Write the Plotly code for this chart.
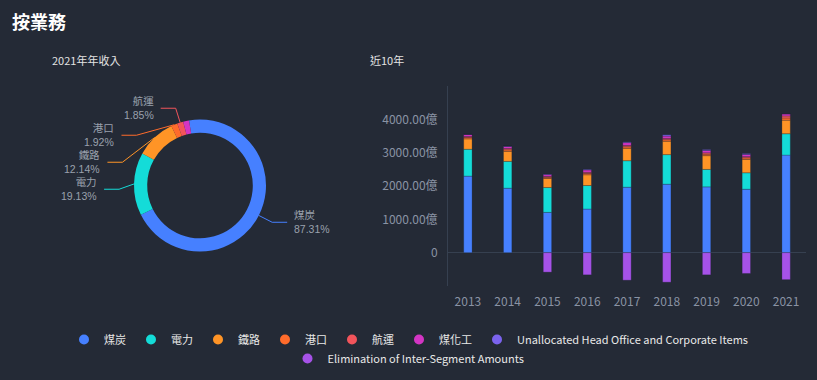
import math
import plotly.graph_objects as go

# ---------------- data ----------------
years = ["2013", "2014", "2015", "2016", "2017", "2018", "2019", "2020", "2021"]
segment_names = ["煤炭", "電力", "鐵路", "港口", "航運", "煤化工",
                 "Unallocated Head Office and Corporate Items",
                 "Elimination of Inter-Segment Amounts"]
coal = [2296, 1934, 1208, 1309, 1964, 2054, 1974, 1903, 2926.77]
power = [806, 805, 746, 705, 795, 887, 523, 494, 641.27]
railway = [312, 302, 272, 322, 373, 402, 413, 403, 406.95]
port = [40, 45, 35, 40, 45, 45, 45, 45, 64.36]
shipping = [30, 40, 25, 35, 40, 40, 40, 35, 62.01]
coal_chem = [60, 60, 55, 70, 85, 70, 70, 65, 60.0]
unallocated = [5, 15, 15, 16, 21, 37, 27, 26, 0]
elimination = [0, 0, -584, -665, -826, -886, -665, -624, -809.16]
y_tick_values = [0, 1000, 2000, 3000, 4000]
y_tick_labels = ["0", "1000.00億", "2000.00億", "3000.00億", "4000.00億"]
pie_hidden_labels = ["煤化工"]

series = [coal, power, railway, port, shipping, coal_chem, unallocated, elimination]

# ---------------- style ----------------
W, H = 817, 380
BG = "#242a36"
colors = ["#4680ff", "#14dcd8", "#ff9426", "#ff6b2b", "#f2545b", "#d335c4", "#7b63ee", "#a652e8"]
CJK = "Noto Sans CJK TC, Noto Sans, sans-serif"
LABEL_FONT = "Liberation Sans, Noto Sans CJK TC, sans-serif"
LEG_FONT = "Liberation Sans Narrow, Noto Sans CJK TC, sans-serif"


def px(x):
    return x / W


def py(y):
    return 1 - y / H


fig = go.Figure()

# stacked bars
for name, vals, col in zip(segment_names, series, colors):
    fig.add_trace(go.Bar(
        x=years, y=vals, name=name, legendgroup=name, showlegend=False,
        marker=dict(color=col, line=dict(width=0.6, color="rgba(30,36,48,0.45)")),
        width=0.21,
    ))

# legend entries (circle markers); last entry goes on a second centred row
for i, (name, col) in enumerate(zip(segment_names, colors)):
    fig.add_trace(go.Scatter(
        x=[None], y=[None], mode="markers", name=name, legendgroup=name,
        legend="legend2" if i == len(segment_names) - 1 else "legend",
        marker=dict(color=col, size=10, symbol="circle"), showlegend=True,
    ))

# pie of last year
pie_labels, pie_values, pie_colors = [], [], []
for name, vals, col in zip(segment_names, series, colors):
    if vals[-1] > 0:
        pie_labels.append(name)
        pie_values.append(vals[-1])
        pie_colors.append(col)
net_total = sum(s[-1] for s in series)

cx, cy, R = 200, 185.5, 66
rotation = -9.6
fig.add_trace(go.Pie(
    labels=pie_labels, values=pie_values, hole=0.8, sort=False,
    direction="clockwise", rotation=rotation, textinfo="none", showlegend=False,
    marker=dict(colors=pie_colors, line=dict(width=0)),
    domain=dict(x=[px(cx - R), px(cx + R)], y=[py(cy + R), py(cy - R)]),
))

# pie labels with leader lines (geometry derived from the slice angles)
total = sum(pie_values)
L1, L2, GAP = 15, 15, 27
items = []
ang = rotation
for lab, v, col in zip(pie_labels, pie_values, pie_colors):
    span = v / total * 360
    mid = math.radians(ang + span / 2)
    ang += span
    if lab in pie_hidden_labels:
        continue
    s, c = math.sin(mid), math.cos(mid)
    items.append(dict(label=lab, pct=v / net_total * 100, col=col,
                      p=(cx + R * s, cy - R * c),
                      ey=cy - (R + L1) * c, ex=cx + (R + L1) * s,
                      side=1 if s > 0 else -1))

for side in (1, -1):
    grp = sorted([it for it in items if it["side"] == side], key=lambda d: d["ey"])
    last = -1e9
    for it in grp:
        if it["ey"] < last + GAP:
            it["ey"] = last + GAP
        last = it["ey"]
        dy = it["ey"] - cy
        if abs(dy) < R + L1:
            it["ex"] = cx + side * math.sqrt((R + L1) ** 2 - dy ** 2)

shapes = []
annotations = []
for it in items:
    ex, ey = it["ex"], it["ey"]
    endx = ex + it["side"] * L2
    shapes.append(dict(
        type="path", xref="paper", yref="paper",
        path=f"M {px(it['p'][0])},{py(it['p'][1])} L {px(ex)},{py(ey)} L {px(endx)},{py(ey)}",
        line=dict(color=it["col"], width=1),
    ))
    tx = endx + it["side"] * 5
    anchor = "left" if it["side"] > 0 else "right"
    annotations.append(dict(x=px(tx), y=py(ey), xref="paper", yref="paper",
                            text=f"{it['label']}<br>{it['pct']:.2f}%", showarrow=False,
                            xanchor=anchor, yanchor="middle", align=anchor,
                            font=dict(size=10.5, color="#9aa1ad", family=LABEL_FONT)))

# titles
annotations.append(dict(x=px(10), y=py(21), xref="paper", yref="paper", text="<b>按業務</b>",
                        showarrow=False, xanchor="left", yanchor="middle",
                        font=dict(size=18, color="#ffffff", family=CJK)))
annotations.append(dict(x=px(50), y=py(60), xref="paper", yref="paper", text="2021年年收入",
                        showarrow=False, xanchor="left", yanchor="middle",
                        font=dict(size=11, color="#e2e2e2", family=CJK)))
annotations.append(dict(x=px(368), y=py(60), xref="paper", yref="paper", text="近10年",
                        showarrow=False, xanchor="left", yanchor="middle",
                        font=dict(size=11, color="#e2e2e2", family=CJK)))

legend_style = dict(orientation="h", x=0.5, xanchor="center", yanchor="top",
                    font=dict(size=11, color="#e8e8e8", family=LEG_FONT),
                    itemwidth=30, bgcolor="rgba(0,0,0,0)", tracegroupgap=0)

fig.update_layout(
    width=W, height=H,
    margin=dict(l=0, r=0, t=0, b=0),
    paper_bgcolor=BG, plot_bgcolor=BG,
    barmode="relative",
    font=dict(family=CJK, color="#8a93a4", size=12),
    shapes=shapes, annotations=annotations,
    xaxis=dict(domain=[px(448), px(806)], type="category", range=[-0.5, 8.5],
               showgrid=False, showline=False, zeroline=False, ticks="",
               ticklabelstandoff=7, tickfont=dict(size=12, color="#8a93a4")),
    yaxis=dict(domain=[py(286), py(86)], range=[-1000, 5000], showgrid=False,
               showline=True, linecolor="#364050", linewidth=1,
               zeroline=True, zerolinecolor="#364050", zerolinewidth=1,
               tickvals=y_tick_values, ticktext=y_tick_labels, ticks="",
               ticklabelstandoff=7, tickfont=dict(size=12, color="#8a93a4")),
    legend=dict(legend_style, y=py(325)),
    legend2=dict(legend_style, y=py(344)),
    showlegend=True,
)

fig.write_html("out.html", config={"displayModeBar": False},
               post_script="document.body.style.margin='0';document.body.style.background='" + BG + "';")
